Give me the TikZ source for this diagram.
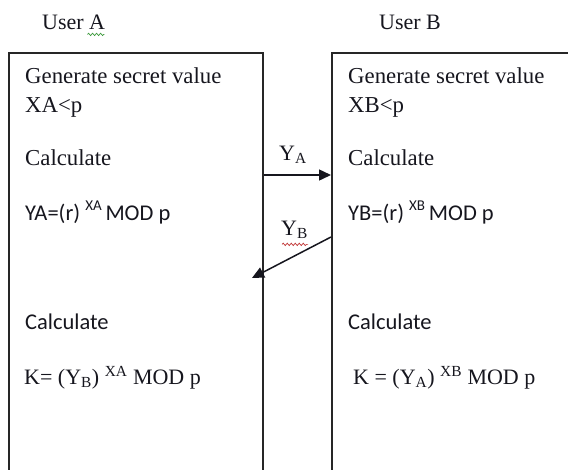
\documentclass[tikz,border=0pt]{standalone}
\usepackage{fontspec}
\setmainfont{Liberation Serif}
\newfontfamily\calibri{Carlito}
\usepackage{tikz}
\usetikzlibrary{positioning,arrows.meta,decorations.pathmorphing}
\definecolor{ink}{HTML}{16161E}
\definecolor{frame}{HTML}{262626}
\definecolor{spellred}{HTML}{C23B3B}
\definecolor{spellgreen}{HTML}{3F9B3F}
\newcommand{\powtext}[1]{\raisebox{0.42em}{\fontsize{15}{15}\selectfont #1}}

\tikzset{
  userbox/.style={draw=frame, line width=2pt, anchor=north west, inner sep=0pt,
                  minimum width=254pt, minimum height=450pt},
  head/.style={anchor=base west, inner sep=0pt, text=ink, font=\fontsize{22}{24}\selectfont},
  sertext/.style={anchor=base west, inner sep=0pt, text=ink, font=\fontsize{22.8}{24}\selectfont},
  keytext/.style={sertext, font=\fontsize{22}{24}\selectfont},
  santext/.style={anchor=base west, inner sep=0pt, text=ink, font=\calibri\fontsize{22.5}{24}\selectfont},
  msg/.style={-{Triangle[length=12pt,width=11pt]}, line width=1.5pt, draw=ink},
  squiggle/.style={decorate, decoration={snake, amplitude=1.2pt, segment length=4pt}, line width=0.7pt},
}

\begin{document}
\begin{tikzpicture}[x=1pt, y=-1pt]
\useasboundingbox (0,0) rectangle (568,469);
\clip (0,0) rectangle (568,469);

% the two parties
\node[head] (userA) at (42,29) {User A};
\node[head] (userB) at (379,29) {User B};
\node[userbox] (boxA) at (8,52) {};
\node[userbox, minimum width=300pt] (boxB) at (331,52) {};

% user A side
\node[sertext] (genA) at (25,83) {Generate secret value};
\node[sertext] (secA) at (25,112) {XA<p};
\node[sertext] (calcA) at (25,165) {Calculate};
\node[santext] (pubA) at (25,220) {YA=(r) \powtext{XA}\,MOD p};
\node[santext] (calcKA) at (25,329) {Calculate};
\node[keytext] (keyA) at (24,384) {K= (Y\textsubscript{B}) \textsuperscript{XA} MOD p};

% user B side
\node[sertext] (genB) at (348,83) {Generate secret value};
\node[sertext] (secB) at (348,112) {XB<p};
\node[sertext] (calcB) at (348,165) {Calculate};
\node[santext] (pubB) at (348,220) {YB=(r) \powtext{XB}\,MOD p};
\node[santext] (calcKB) at (348,329) {Calculate};
\node[keytext] (keyB) at (353,384) {K = (Y\textsubscript{A}) \textsuperscript{XB} MOD p};

% exchanged values
\coordinate (outA) at (boxA.east |- 0,175);
\coordinate (outB) at (boxB.west |- 0,237);
\coordinate (inA) at (252,278);
\draw[msg] (outA) -- (outA -| boxB.west);
\draw[msg] (outB) -- (inA);
\node[keytext] (lblA) at (279,160) {Y\textsubscript{A}};
\node[keytext] (lblB) at (281,235) {Y\textsubscript{B}};

% spell check marks
\draw[squiggle, draw=spellgreen] (userA.south east) ++(-18,5) -- ++(17,0);
\draw[squiggle, draw=spellred] (lblB.south west) ++(1,6) -- ++(26,0);
\end{tikzpicture}
\end{document}
